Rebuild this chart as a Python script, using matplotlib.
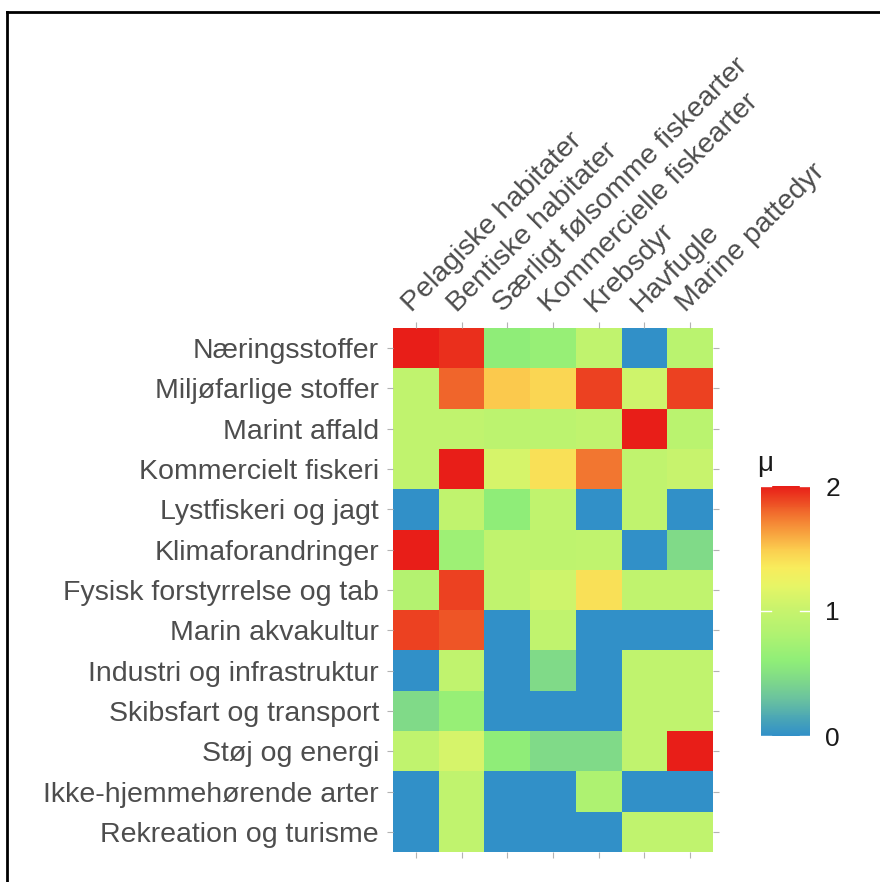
import matplotlib
matplotlib.use("Agg")
import matplotlib.pyplot as plt
import numpy as np
from matplotlib.colors import LinearSegmentedColormap
from matplotlib.lines import Line2D

plt.rcParams['font.family'] = ['Liberation Sans', 'DejaVu Sans']

pressures = ["Næringsstoffer", "Miljøfarlige stoffer", "Marint affald",
             "Kommercielt fiskeri", "Lystfiskeri og jagt", "Klimaforandringer",
             "Fysisk forstyrrelse og tab", "Marin akvakultur",
             "Industri og infrastruktur", "Skibsfart og transport",
             "Støj og energi", "Ikke-hjemmehørende arter", "Rekreation og turisme"]
components = ["Pelagiske habitater", "Bentiske habitater",
              "Særligt følsomme fiskearter", "Kommercielle fiskearter",
              "Krebsdyr", "Havfugle", "Marine pattedyr"]

# mu values, one row per pressure
mu = np.array([
    [2.00, 1.95, 0.60, 0.65, 0.95, 0.00, 0.90],
    [0.95, 1.80, 1.50, 1.45, 1.90, 1.05, 1.90],
    [0.95, 0.95, 0.92, 0.92, 0.95, 2.00, 0.90],
    [0.95, 2.00, 1.10, 1.40, 1.75, 0.95, 1.00],
    [0.00, 0.95, 0.60, 0.95, 0.00, 0.95, 0.00],
    [2.00, 0.70, 0.95, 0.93, 0.95, 0.00, 0.45],
    [0.85, 1.90, 0.95, 1.05, 1.40, 0.95, 0.95],
    [1.90, 1.85, 0.00, 0.95, 0.00, 0.00, 0.00],
    [0.00, 0.95, 0.00, 0.45, 0.00, 0.95, 0.95],
    [0.45, 0.65, 0.00, 0.00, 0.00, 0.95, 0.95],
    [0.95, 1.10, 0.60, 0.45, 0.45, 0.95, 2.00],
    [0.00, 0.95, 0.00, 0.00, 0.80, 0.00, 0.00],
    [0.00, 0.95, 0.00, 0.00, 0.00, 0.95, 0.95],
])

anchors = [(0.0, "#3190C8"), (0.15, "#4DA8B4"), (0.3, "#6BC39E"),
           (0.45, "#80DA88"), (0.6, "#8FEE78"), (0.8, "#AEF271"),
           (1.0, "#C6F36D"), (1.2, "#E6F566"), (1.35, "#F8EC5C"),
           (1.5, "#FBCB4E"), (1.7, "#F58A36"), (1.85, "#EE5526"),
           (2.0, "#E81E18")]
cmap = LinearSegmentedColormap.from_list(
    "mu", [(v / 2.0, c) for v, c in anchors])

fig = plt.figure(figsize=(8.8, 8.82), dpi=100)
ax = fig.add_axes([393 / 880, 1 - 852 / 882, 320 / 880, 524 / 882])

n_rows, n_cols = mu.shape
mesh = ax.pcolormesh(np.arange(n_cols + 1), np.arange(n_rows + 1), mu,
                     cmap=cmap, vmin=0, vmax=2, shading='flat')
ax.set_xlim(0, n_cols)
ax.set_ylim(n_rows, 0)

ax.set_xticks(np.arange(n_cols) + 0.5)
ax.set_yticks(np.arange(n_rows) + 0.5)
ax.xaxis.tick_top()
ax.set_xticklabels(components, rotation=45, ha='left', va='bottom',
                   rotation_mode='anchor', fontsize=20.5, color='#4D4D4D')
ax.set_yticklabels(pressures, fontsize=20.5, color='#4D4D4D')
ax.tick_params(axis='both', which='both', length=4, width=0.8, color='#B3B3B3',
               top=True, bottom=True, left=True, right=True,
               labeltop=True, labelbottom=False, labelleft=True,
               labelright=False)
ax.tick_params(axis='x', pad=4)
ax.tick_params(axis='y', pad=6)
for s in ax.spines.values():
    s.set_visible(False)

# colour bar
cax = fig.add_axes([761 / 880, 1 - 736 / 882, 49 / 880, 250 / 882])
cb = fig.colorbar(mesh, cax=cax, ticks=[0, 1, 2])
cb.outline.set_visible(False)
cax.tick_params(length=0, labelsize=19, labelcolor='#1A1A1A', pad=11)
for t in [0, 1, 2]:
    cax.plot([0, 0.2], [t, t], color='white', lw=1, transform=cax.get_yaxis_transform())
    cax.plot([0.8, 1], [t, t], color='white', lw=1, transform=cax.get_yaxis_transform())
fig.text(757 / 880, 1 - 464 / 882, "μ", fontsize=20, color='#1A1A1A',
         ha='left', va='center')

# frame lines of the original screenshot
fig.add_artist(Line2D([7 / 880, 7 / 880], [0, 1 - 12 / 882], color='black', lw=2))
fig.add_artist(Line2D([7 / 880, 1], [1 - 12 / 882, 1 - 12 / 882], color='black', lw=2))

fig.savefig("out.png", dpi=100)
